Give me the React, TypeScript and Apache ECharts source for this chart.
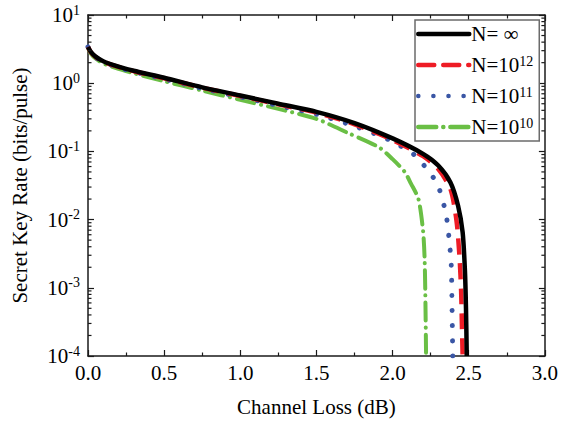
import React, { useEffect, useRef } from 'react';
import * as echarts from 'echarts';

const FONT = "'Liberation Serif', 'Times New Roman', serif";

const seriesKeys = ['inf', 'e12', 'e11', 'e10'];
const legendLabels = ['N= ∞', 'N=10{sup|12}', 'N=10{sup|11}', 'N=10{sup|10}'];
const seriesColors = ['#000000', '#ee1c25', '#3a56a5', '#6abf45'];

const lossInf = [0, 0.02, 0.05, 0.1, 0.2, 0.3, 0.5, 0.75, 1.0, 1.25, 1.5, 1.75, 2.0, 2.2, 2.3, 2.38, 2.43, 2.46, 2.475, 2.482, 2.487];
const rateInf = [3.4, 2.85, 2.45, 2.1, 1.75, 1.52, 1.2, 0.87, 0.66, 0.5, 0.38, 0.26, 0.155, 0.092, 0.062, 0.035, 0.016, 0.0065, 0.0018, 0.0005, 0.0001];

const loss12 = [0, 0.02, 0.05, 0.1, 0.2, 0.3, 0.5, 0.75, 1.0, 1.25, 1.5, 1.75, 2.0, 2.2, 2.3, 2.38, 2.42, 2.44, 2.45, 2.455, 2.46];
const rate12 = [3.4, 2.82, 2.42, 2.07, 1.73, 1.5, 1.18, 0.86, 0.65, 0.49, 0.37, 0.25, 0.147, 0.085, 0.055, 0.028, 0.0095, 0.0027, 0.0009, 0.0003, 0.0001];

const loss11 = [0, 0.02, 0.05, 0.1, 0.2, 0.3, 0.5, 0.75, 1.0, 1.25, 1.5, 1.75, 1.97, 2.14, 2.25, 2.3, 2.35, 2.37, 2.385, 2.39, 2.395];
const rate11 = [3.4, 2.8, 2.4, 2.04, 1.7, 1.47, 1.15, 0.84, 0.63, 0.47, 0.35, 0.235, 0.15, 0.09, 0.047, 0.031, 0.0123, 0.0055, 0.0022, 0.0006, 0.0001];

const loss10 = [0, 0.02, 0.05, 0.1, 0.2, 0.3, 0.5, 0.75, 1.0, 1.25, 1.5, 1.71, 1.91, 2.0, 2.08, 2.12, 2.17, 2.2, 2.21, 2.215, 2.22];
const rate10 = [3.3, 2.7, 2.3, 1.95, 1.62, 1.4, 1.07, 0.78, 0.57, 0.42, 0.3, 0.185, 0.115, 0.077, 0.05, 0.034, 0.02, 0.0069, 0.0028, 0.0008, 0.0001];

const xTickInterval = 0.5;
const xMin = 0;
const xMax = 3;
const yMin = 1e-4;
const yMax = 10;
const minorMultipliers = [2, 3, 4, 5, 6, 7, 8, 9];
const minorDecades = [1e-4, 1e-3, 1e-2, 1e-1, 1];

const zip = (xs: number[], ys: number[]) => xs.map((x, i) => [x, ys[i]]);

const seriesData = [zip(lossInf, rateInf), zip(loss12, rate12), zip(loss11, rate11), zip(loss10, rate10)];

const lineStyles: any[] = [
  { width: 4.5, type: 'solid' },
  { width: 4.5, type: [16, 9] },
  { width: 5, type: [0.1, 15], cap: 'round' },
  { width: 4, type: [18, 7, 0.1, 7], cap: 'round' },
];

export default function App() {
  const ref = useRef<HTMLDivElement>(null);
  useEffect(() => {
    if (!ref.current) return;
    const chart = echarts.init(ref.current, undefined, { renderer: 'svg' });
    const minorVals: number[][] = [];
    minorDecades.forEach((d) => minorMultipliers.forEach((m) => minorVals.push([0, m * d])));

    const axisLine = { show: true, onZero: false, lineStyle: { color: '#1a1a1a', width: 1.5 } };
    const xBase: any = {
      type: 'value',
      min: xMin,
      max: xMax,
      interval: xTickInterval,
      axisLine,
      axisTick: { show: true, inside: true, length: 6, lineStyle: { color: '#1a1a1a', width: 1.2 } },
      minorTick: { show: true, splitNumber: 2, length: 3.5, lineStyle: { color: '#1a1a1a', width: 1.2 } },
      splitLine: { show: false },
    };
    const yBase: any = {
      type: 'log',
      logBase: 10,
      min: yMin,
      max: yMax,
      axisLine,
      axisTick: { show: true, inside: true, length: 6, lineStyle: { color: '#1a1a1a', width: 1.2 } },
      splitLine: { show: false },
    };

    const option: any = {
      animation: false,
      backgroundColor: '#ffffff',
      textStyle: { fontFamily: FONT },
      grid: { left: 88, right: 14, top: 15, bottom: 70, containLabel: false },
      legend: {
        data: seriesKeys,
        orient: 'vertical',
        left: 415,
        top: 20,
        width: 121,
        padding: [3, 6, 3, 1],
        itemGap: 9,
        itemWidth: 51,
        itemHeight: 14,
        backgroundColor: '#ffffff',
        borderColor: '#6b6b6b',
        borderWidth: 1.5,
        borderRadius: 0,
        itemStyle: { opacity: 0, borderWidth: 0 },
        lineStyle: { width: 4.5, cap: 'round' },
        formatter: (name: string) => legendLabels[seriesKeys.indexOf(name)],
        textStyle: {
          fontFamily: FONT,
          fontSize: 21,
          color: '#000',
          lineHeight: 22,
          padding: [0, 0, 0, -3],
          rich: {
            sup: { fontFamily: FONT, fontSize: 14, color: '#000', lineHeight: 14, verticalAlign: 'top' },
          },
        },
      },
      xAxis: [
        {
          ...xBase,
          position: 'bottom',
          name: 'Channel Loss (dB)',
          nameLocation: 'middle',
          nameGap: 40,
          nameTextStyle: { fontFamily: FONT, fontSize: 21, color: '#000' },
          axisLabel: {
            margin: 6,
            fontFamily: FONT,
            fontSize: 21,
            color: '#000',
            formatter: (v: number) => v.toFixed(1),
          },
        },
        { ...xBase, position: 'top', axisLabel: { show: false } },
      ],
      yAxis: [
        {
          ...yBase,
          position: 'left',
          name: 'Secret Key Rate (bits/pulse)',
          nameLocation: 'middle',
          nameGap: 58,
          nameRotate: 90,
          nameTextStyle: { fontFamily: FONT, fontSize: 21, color: '#000' },
          axisLabel: {
            margin: 8,
            fontFamily: FONT,
            fontSize: 21,
            color: '#000',
            lineHeight: 24,
            formatter: (v: number) => '10{sup|' + Math.round(Math.log10(v)) + '}',
            rich: {
              sup: { fontFamily: FONT, fontSize: 14, color: '#000', lineHeight: 14, verticalAlign: 'top' },
            },
          },
        },
        { ...yBase, position: 'right', axisLabel: { show: false } },
      ],
      series: [
        ...seriesKeys.map((k, i) => ({
          name: k,
          type: 'line',
          xAxisIndex: 0,
          yAxisIndex: 0,
          data: seriesData[i],
          symbol: 'none',
          smooth: 0.25,
          clip: true,
          color: seriesColors[i],
          lineStyle: { color: seriesColors[i], ...lineStyles[i] },
          z: 10 - i,
        })),
        {
          name: 'minorTicks',
          type: 'custom',
          xAxisIndex: 0,
          yAxisIndex: 0,
          silent: true,
          data: minorVals,
          encode: { x: 0, y: 1 },
          z: 20,
          renderItem: (params: any, api: any) => {
            const v = api.value(1);
            const pL = api.coord([xMin, v]);
            const pR = api.coord([xMax, v]);
            const st = { stroke: '#1a1a1a', lineWidth: 1.2 };
            return {
              type: 'group',
              children: [
                { type: 'line', shape: { x1: pL[0], y1: pL[1], x2: pL[0] + 3.5, y2: pL[1] }, style: st },
                { type: 'line', shape: { x1: pR[0] - 3.5, y1: pR[1], x2: pR[0], y2: pR[1] }, style: st },
              ],
            };
          },
        },
      ],
    };
    chart.setOption(option);
    return () => chart.dispose();
  }, []);
  return <div ref={ref} style={{ width: 561, height: 426, position: 'absolute', left: 0, top: 0 }} />;
}
